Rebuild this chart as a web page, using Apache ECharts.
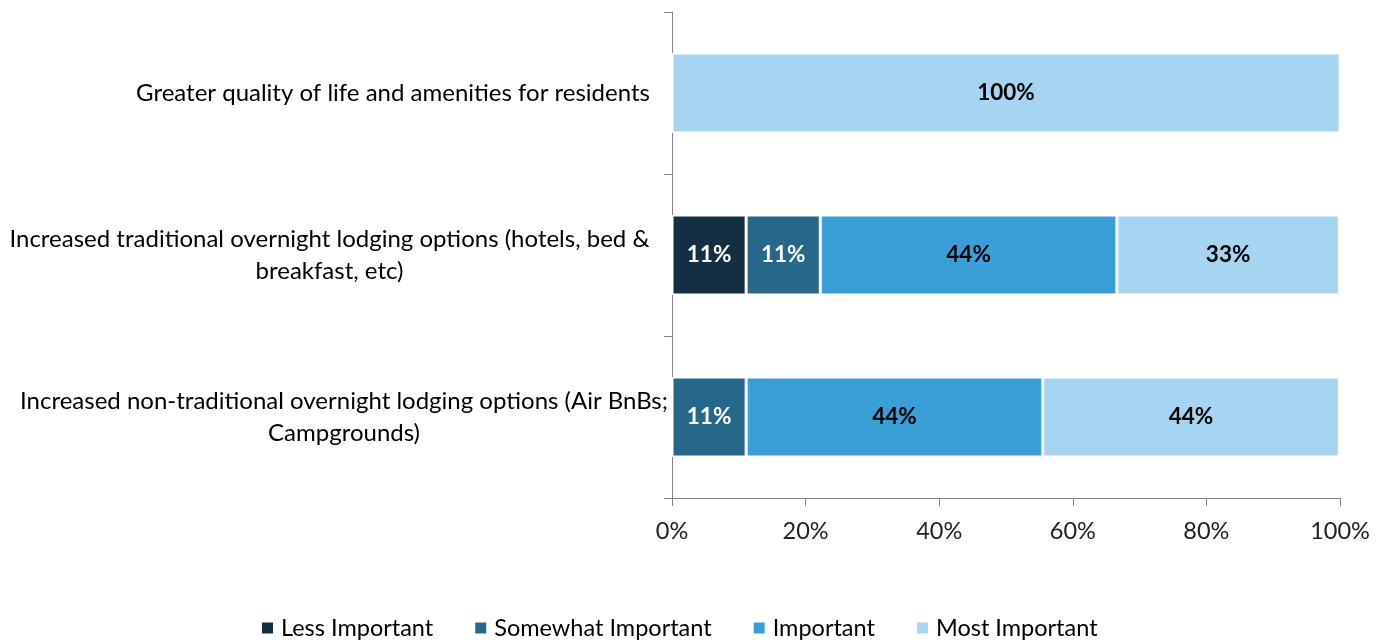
<!DOCTYPE html>
<html>
<head>
<meta charset="utf-8">
<script src="https://cdn.jsdelivr.net/npm/echarts@6/dist/echarts.min.js"></script>
<style>
  html, body { margin: 0; padding: 0; background: #fff; }
  #chart { width: 1386px; height: 643px; }
</style>
</head>
<body>
<div id="chart"></div>
<script>
// Survey items, top to bottom
const categories = [
  'Greater quality of life and amenities for residents',
  'Increased traditional overnight lodging options (hotels, bed &\nbreakfast, etc)',
  'Increased non-traditional overnight lodging options (Air BnBs;\nCampgrounds)'
];

// Share of responses (%) per importance level
const lessImportant     = [0, 11.1, 0];
const somewhatImportant = [0, 11.1, 11.1];
const important         = [0, 44.4, 44.4];
const mostImportant     = [100, 33.3, 44.4];

const xTicks = [0, 20, 40, 60, 80, 100];

const FONT = 'Lato';
const FS = 23.5;
const CAT_FS = 24;

const seriesDefs = [
  { name: 'Less Important',     data: lessImportant,     color: '#142f41', label: '#ffffff' },
  { name: 'Somewhat Important', data: somewhatImportant, color: '#276789', label: '#ffffff' },
  { name: 'Important',          data: important,         color: '#3b9fd7', label: '#000000' },
  { name: 'Most Important',     data: mostImportant,     color: '#a6d5f1', label: '#000000' }
];

// Widest line of each category label, so wrapped lines can be centred in their block
const measureCtx = document.createElement('canvas').getContext('2d');
measureCtx.font = CAT_FS + 'px ' + FONT;
const labelWidths = categories.map(c =>
  Math.ceil(Math.max(...c.split('\n').map(l => measureCtx.measureText(l).width)))
);
// right-side padding per label (the last one sits closer to the axis)
const labelPadRight = [18, 18, 0];

const rich = {};
categories.forEach((c, i) => {
  rich['c' + i] = {
    fontSize: CAT_FS, fontFamily: FONT, color: '#000', lineHeight: 32,
    width: labelWidths[i], align: 'center',
    padding: [0, labelPadRight[i], 0, 0]
  };
});

const chart = echarts.init(document.getElementById('chart'), null, { renderer: 'canvas' });

chart.setOption({
  animation: false,
  textStyle: { fontFamily: FONT },
  grid: { left: 672, right: 46, top: 12, bottom: 145, containLabel: false, outerBoundsMode: 'none' },
  legend: {
    top: 611,
    left: 255,
    itemWidth: 13,
    itemHeight: 13,
    itemGap: 40,
    icon: 'rect',
    textStyle: { fontFamily: FONT, fontSize: FS, color: '#000', padding: [0, 0, 0, 2] },
    data: seriesDefs.map(s => s.name)
  },
  xAxis: {
    type: 'value',
    min: xTicks[0],
    max: xTicks[xTicks.length - 1],
    interval: xTicks[1] - xTicks[0],
    axisLine: { show: true, lineStyle: { color: '#868686', width: 1 } },
    axisTick: { show: true, length: 8, lineStyle: { color: '#868686' } },
    splitLine: { show: false },
    axisLabel: {
      margin: 21,
      fontSize: FS,
      fontFamily: FONT,
      color: '#222',
      formatter: v => v + '%'
    }
  },
  yAxis: {
    type: 'category',
    inverse: true,
    data: categories,
    axisLine: { show: true, lineStyle: { color: '#868686', width: 1 } },
    axisTick: { show: true, length: 8, alignWithLabel: false, lineStyle: { color: '#868686' } },
    axisLabel: {
      margin: 4,
      fontSize: CAT_FS,
      fontFamily: FONT,
      color: '#000',
      lineHeight: 32,
      formatter: (v, i) => {
        const key = 'c' + i;
        return v.split('\n').map(l => '{' + key + '|' + l + '}').join('\n');
      },
      rich: rich
    }
  },
  series: seriesDefs.map(s => ({
    name: s.name,
    type: 'bar',
    stack: 'total',
    barWidth: 80,
    data: s.data,
    itemStyle: { color: s.color, borderColor: '#ffffff', borderWidth: 1.5 },
    label: {
      show: true,
      position: 'inside',
      fontFamily: FONT,
      fontSize: 22.5,
      fontWeight: 'bold',
      color: s.label,
      formatter: p => (p.value > 0 ? Math.round(p.value) + '%' : '')
    }
  }))
});
</script>
</body>
</html>
